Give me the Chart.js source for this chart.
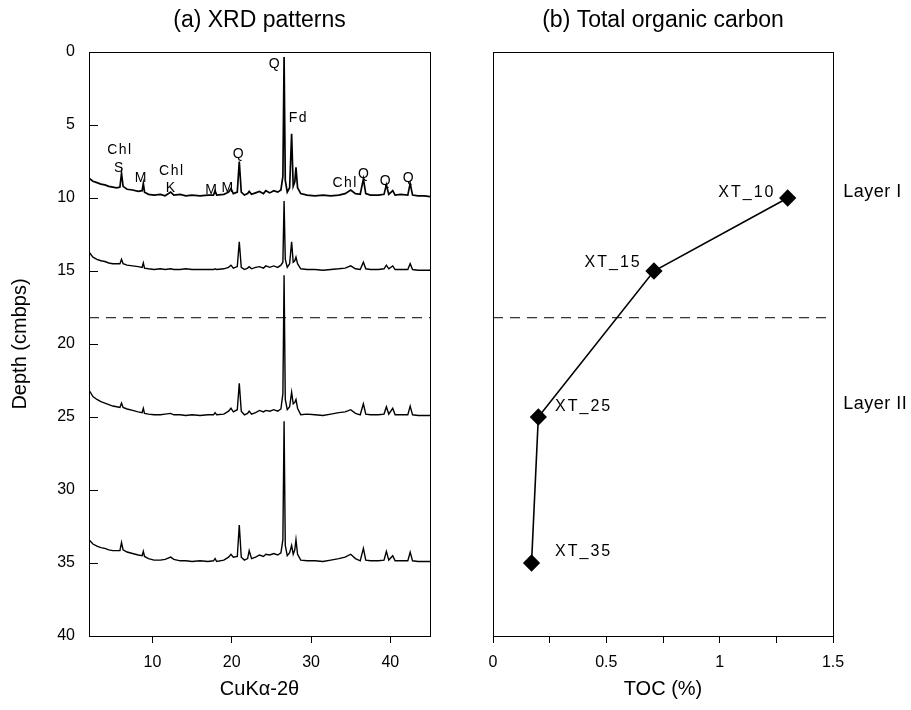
<!DOCTYPE html>
<html>
<head>
<meta charset="utf-8">
<script src="https://cdn.jsdelivr.net/npm/chart.js@4"></script>
<style>
  body { margin: 0; background: #fff; }
  #wrap { position: relative; width: 911px; height: 710px; }
  canvas { position: absolute; top: 0; }
  #xrdChart { left: 0; }
  #tocChart { left: 460px; }
</style>
</head>
<body>
<div id="wrap">
  <canvas id="xrdChart" width="460" height="710"></canvas>
  <canvas id="tocChart" width="451" height="710"></canvas>
</div>
<script>
// 2-theta positions shared by all four XRD traces
const twoTheta = [2.0, 2.5, 3.0, 3.5, 4.0, 4.5, 5.0, 5.5, 5.9, 6.1, 6.3, 6.8, 7.5, 8.2, 8.7, 8.85, 9.0, 9.5, 10.2, 11.0,
  11.6, 12.3, 12.7, 13.5, 14.2, 15.0, 16.0, 17.0, 17.7, 17.9, 18.1, 19.0, 19.6, 19.9, 20.2, 20.7, 20.95, 21.2, 21.6, 22.0,
  22.2, 22.5, 23.0, 23.5, 24.0, 24.3, 24.8, 25.3, 25.8, 26.2, 26.45, 26.6, 26.75, 27.0, 27.3, 27.55, 27.75, 27.95, 28.1, 28.3,
  28.7, 29.5, 30.5, 31.5, 32.5, 33.5, 34.3, 35.0, 35.6, 36.2, 36.6, 36.9, 37.5, 38.5, 39.2, 39.5, 39.8, 40.3, 40.6, 41.3,
  42.2, 42.5, 42.8, 43.5, 44.3, 45.0];

// trace height, plotted on the depth axis (peaks point up)
const xt10 = [8.65, 8.85, 8.95, 9.05, 9.1, 9.2, 9.25, 9.3, 9.25, 8.3, 9.2, 9.4, 9.45, 9.55, 9.5, 9.0, 9.6, 9.75, 9.8, 9.75,
  9.85, 9.6, 9.8, 9.75, 9.85, 9.8, 9.85, 9.8, 9.8, 9.5, 9.8, 9.75, 9.6, 9.35, 9.7, 9.6, 7.5, 9.6, 9.8, 9.7,
  9.55, 9.75, 9.65, 9.55, 9.7, 9.5, 9.65, 9.5, 9.6, 9.45, 8.5, 0.35, 8.8, 9.6, 9.3, 5.6, 9.2, 8.9, 7.9, 9.3,
  9.7, 9.8, 9.85, 9.8, 9.85, 9.8, 9.7, 9.45, 9.7, 9.75, 8.7, 9.7, 9.8, 9.8, 9.75, 9.1, 9.75, 9.5, 9.8, 9.75,
  9.8, 9.0, 9.8, 9.85, 9.85, 9.9];
const xt15 = [13.7, 14.05, 14.2, 14.3, 14.35, 14.45, 14.5, 14.5, 14.5, 14.2, 14.5, 14.6, 14.65, 14.7, 14.75, 14.45, 14.8, 14.85, 14.9, 14.85,
  14.9, 14.85, 14.9, 14.9, 14.85, 14.9, 14.9, 14.9, 14.9, 14.85, 14.9, 14.85, 14.75, 14.6, 14.8, 14.7, 13.0, 14.75, 14.9, 14.8,
  14.7, 14.85, 14.75, 14.7, 14.8, 14.65, 14.75, 14.65, 14.75, 14.6, 14.4, 10.2, 14.2, 14.75, 14.5, 13.0, 14.4, 14.3, 14.05, 14.5,
  14.85, 14.9, 14.9, 14.95, 14.9, 14.85, 14.8, 14.65, 14.85, 14.9, 14.4, 14.85, 14.9, 14.9, 14.85, 14.6, 14.85, 14.65, 14.9, 14.9,
  14.9, 14.5, 14.9, 14.95, 14.95, 14.95];
const xt25 = [23.15, 23.6, 23.8, 23.95, 24.05, 24.15, 24.25, 24.3, 24.35, 24.05, 24.35, 24.45, 24.55, 24.65, 24.7, 24.4, 24.75, 24.8, 24.85, 24.85,
  24.8, 24.75, 24.85, 24.85, 24.9, 24.85, 24.9, 24.85, 24.85, 24.7, 24.85, 24.8, 24.6, 24.4, 24.65, 24.5, 22.7, 24.6, 24.85, 24.75,
  24.6, 24.8, 24.7, 24.55, 24.65, 24.55, 24.6, 24.5, 24.6, 24.45, 23.4, 15.3, 23.8, 24.5, 24.3, 23.3, 24.1, 24.0, 23.8, 24.4,
  24.85, 24.8, 24.85, 24.9, 24.8, 24.7, 24.65, 24.5, 24.75, 24.85, 24.1, 24.8, 24.85, 24.85, 24.8, 24.3, 24.8, 24.4, 24.85, 24.85,
  24.85, 24.25, 24.85, 24.9, 24.9, 24.9];
const xt35 = [33.4, 33.7, 33.85, 33.95, 34.0, 34.1, 34.15, 34.15, 34.15, 33.6, 34.1, 34.25, 34.35, 34.45, 34.5, 34.2, 34.55, 34.7, 34.8, 34.8,
  34.75, 34.6, 34.75, 34.85, 34.85, 34.9, 34.85, 34.9, 34.85, 34.7, 34.9, 34.8, 34.6, 34.4, 34.6, 34.55, 32.4, 34.6, 34.8, 34.7,
  34.15, 34.7, 34.6, 34.45, 34.55, 34.4, 34.45, 34.35, 34.45, 34.3, 33.4, 25.3, 33.8, 34.5, 34.3, 33.8, 34.4, 34.1, 33.4, 34.4,
  34.8, 34.85, 34.85, 34.9, 34.8, 34.7, 34.6, 34.4, 34.7, 34.85, 34.0, 34.8, 34.85, 34.85, 34.8, 34.2, 34.8, 34.5, 34.85, 34.85,
  34.85, 34.25, 34.85, 34.9, 34.9, 34.9];

// total organic carbon
const samples = ["XT_10", "XT_15", "XT_25", "XT_35"];
const sampleDepth = [10, 15, 25, 35];
const tocValues = [1.30, 0.71, 0.20, 0.17];

const layerBoundary = 18.2;
const depthTicks = [0, 5, 10, 15, 20, 25, 30, 35, 40];

// mineral labels on the XT_10 pattern (2-theta, depth)
const peakLabels = [
  { text: "Chl", x: 5.9, y: 6.7 }, { text: "S", x: 5.85, y: 7.95 }, { text: "M", x: 8.6, y: 8.65 },
  { text: "Chl", x: 12.45, y: 8.15 }, { text: "K", x: 12.35, y: 9.3 }, { text: "M", x: 17.5, y: 9.45 },
  { text: "M", x: 19.55, y: 9.3 }, { text: "Q", x: 20.9, y: 7.0 }, { text: "Q", x: 25.45, y: 0.8 },
  { text: "Fd", x: 28.4, y: 4.5 }, { text: "Chl", x: 34.3, y: 8.95 }, { text: "Q", x: 36.7, y: 8.35 },
  { text: "Q", x: 39.45, y: 8.85 }, { text: "Q", x: 42.35, y: 8.65 }
];
const sampleLabels = [
  { text: "XT_10", x: 1.12, y: 9.65 }, { text: "XT_15", x: 0.53, y: 14.45 },
  { text: "XT_25", x: 0.40, y: 24.3 }, { text: "XT_35", x: 0.40, y: 34.2 }
];
const layerLabels = [{ text: "Layer I", x: 1.545, y: 9.6 }, { text: "Layer II", x: 1.545, y: 24.1 }];

Chart.defaults.font.family = 'Arial, "Liberation Sans", sans-serif';
Chart.defaults.color = "#000";

const frame = {
  id: "frame",
  afterDraw(chart, args, opts) {
    const { ctx, chartArea: a } = chart;
    ctx.save();
    ctx.strokeStyle = "#000";
    ctx.lineWidth = 1;
    ctx.strokeRect(a.left + 0.5, a.top + 0.5, a.right - a.left, a.bottom - a.top);
    if (opts.innerTicks) {
      const y = chart.scales.y;
      y.ticks.forEach(t => {
        const py = Math.round(y.getPixelForValue(t.value)) + 0.5;
        ctx.beginPath();
        ctx.moveTo(a.left, py);
        ctx.lineTo(a.left + 9, py);
        ctx.stroke();
      });
    }
    ctx.restore();
  }
};

const notes = {
  id: "notes",
  afterDatasetsDraw(chart, args, opts) {
    const { ctx, scales: { x, y } } = chart;
    (opts.groups || []).forEach(g => {
      ctx.save();
      ctx.fillStyle = "#000";
      ctx.font = g.font;
      ctx.letterSpacing = g.spacing || "0px";
      ctx.textAlign = g.align;
      ctx.textBaseline = "middle";
      g.items.forEach(n => ctx.fillText(n.text, x.getPixelForValue(n.x), y.getPixelForValue(n.y)));
      ctx.restore();
    });
  }
};

const titleOpts = text => ({
  display: true, text, fullSize: false,
  font: { size: 23, weight: "normal" },
  padding: { top: 7, bottom: 17.4 }
});

const xrdLine = (vals, w) => ({
  data: twoTheta.map((x, i) => ({ x, y: vals[i] })),
  showLine: true, borderColor: "#000", borderWidth: w, pointRadius: 0, tension: 0
});

new Chart(document.getElementById("xrdChart"), {
  type: "scatter",
  data: {
    datasets: [
      xrdLine(xt10, 1.7), xrdLine(xt15, 1.4), xrdLine(xt25, 1.4), xrdLine(xt35, 1.4),
      {
        data: [{ x: 2, y: layerBoundary }, { x: 45, y: layerBoundary }],
        showLine: true, borderColor: "#000", borderWidth: 1, borderDash: [10, 7], pointRadius: 0
      }
    ]
  },
  options: {
    responsive: false,
    animation: false,
    layout: { padding: { left: 0, right: 30, top: 0, bottom: 0 } },
    plugins: {
      legend: { display: false },
      tooltip: { enabled: false },
      title: titleOpts("(a) XRD patterns"),
      frame: { innerTicks: true },
      notes: { groups: [{ items: peakLabels, font: "14px Arial, 'Liberation Sans'", spacing: "1.5px", align: "center" }] }
    },
    scales: {
      x: {
        type: "linear", min: 2, max: 45,
        afterBuildTicks: s => { s.ticks = s.ticks.filter(t => t.value % 10 === 0); },
        afterFit: s => { s.height = 74; },
        ticks: { font: { size: 16 }, padding: 10 },
        grid: { drawOnChartArea: false, tickLength: 7, color: "#000" },
        border: { color: "#000" },
        title: { display: true, text: "CuKα-2θ", font: { size: 20 }, padding: { top: 0, bottom: 8.6 } }
      },
      y: {
        type: "linear", min: 0, max: 40, reverse: true,
        afterBuildTicks: s => { s.ticks = depthTicks.map(value => ({ value })); },
        afterFit: s => { s.width = 89; },
        ticks: { font: { size: 16 }, padding: 14 },
        grid: { drawOnChartArea: false, drawTicks: false, color: "#000" },
        border: { color: "#000" },
        title: { display: true, text: "Depth (cmbps)", font: { size: 20 }, padding: { top: 8.5, bottom: 0 } }
      }
    }
  },
  plugins: [frame, notes]
});

new Chart(document.getElementById("tocChart"), {
  type: "scatter",
  data: {
    datasets: [
      {
        data: tocValues.map((x, i) => ({ x, y: sampleDepth[i] })),
        showLine: true, borderColor: "#000", borderWidth: 1.6,
        pointStyle: "rectRot", pointRadius: 7.5, pointBackgroundColor: "#000", pointBorderColor: "#000", tension: 0
      },
      {
        data: [{ x: 0, y: layerBoundary }, { x: 1.5, y: layerBoundary }],
        showLine: true, borderColor: "#000", borderWidth: 1, borderDash: [10, 7], pointRadius: 0
      }
    ]
  },
  options: {
    responsive: false,
    animation: false,
    layout: { padding: { left: 0, right: 78, top: 0, bottom: 0 } },
    plugins: {
      legend: { display: false },
      tooltip: { enabled: false },
      title: titleOpts("(b) Total organic carbon"),
      frame: { innerTicks: false },
      notes: {
        groups: [
          { items: sampleLabels, font: "16px Arial, 'Liberation Sans'", spacing: "2px", align: "center" },
          { items: layerLabels, font: "18px Arial, 'Liberation Sans'", spacing: "0.5px", align: "left" }
        ]
      }
    },
    scales: {
      x: {
        type: "linear", min: 0, max: 1.5,
        afterFit: s => { s.height = 74; },
        ticks: {
          stepSize: 0.25, font: { size: 16 }, padding: 10,
          callback: v => (Math.abs(v * 2 - Math.round(v * 2)) < 1e-9 ? v : "")
        },
        grid: { drawOnChartArea: false, tickLength: 7, color: "#000" },
        border: { color: "#000" },
        title: { display: true, text: "TOC (%)", font: { size: 20 }, padding: { top: 0, bottom: 8.6 } }
      },
      y: {
        type: "linear", min: 0, max: 40, reverse: true,
        afterFit: s => { s.width = 33; },
        ticks: { display: false },
        grid: { display: false },
        border: { color: "#000" }
      }
    }
  },
  plugins: [frame, notes]
});
</script>
</body>
</html>
